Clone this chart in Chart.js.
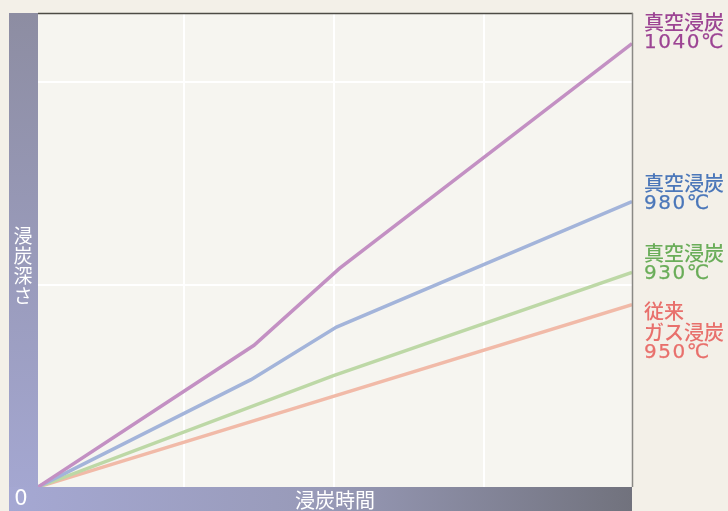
<!DOCTYPE html>
<html>
<head>
<meta charset="utf-8">
<script src="https://cdn.jsdelivr.net/npm/chart.js@4/dist/chart.umd.min.js"></script>
<style>
  html, body { margin: 0; padding: 0; background: #f3f0e8; }
  #wrap { width: 728px; height: 511px; position: relative; }
</style>
</head>
<body>
<div id="wrap"><canvas id="chart" width="728" height="511"></canvas></div>
<script>
// carburizing depth vs time, unitless (one unit = one grid cell)
const vac1040X = [0, 1.44, 2.01, 3.96];
const vac1040Y = [0, 0.70, 1.08, 2.19];
const vac980X = [0, 1.42, 1.99, 3.96];
const vac980Y = [0, 0.53, 0.79, 1.41];
const vac930X = [0, 1.97, 3.96];
const vac930Y = [0, 0.55, 1.06];
const gas950X = [0, 3.96];
const gas950Y = [0, 0.90];

const xGridTicks = [0.97, 1.97, 2.97];
const yGridTicks = [1, 2];

const seriesLabels = [
    ["真空浸炭", "1040℃"],
    ["真空浸炭", "980℃"],
    ["真空浸炭", "930℃"],
    ["従来", "ガス浸炭", "950℃"],
];
const axisLabelX = "浸炭時間";
const axisLabelY = "浸炭深さ";
const originLabel = "0";

const toPoints = (xs, ys) => xs.map((x, i) => ({ x: x, y: ys[i] }));
const FONT = "'Noto Sans CJK JP', 'Noto Sans', sans-serif";

const frame = {
    id: "frame",
    beforeDraw(chart) {
        const { ctx, chartArea: a } = chart;
        ctx.save();
        ctx.fillStyle = "#f6f5f0";
        ctx.fillRect(a.left, a.top, a.right - a.left, a.bottom - a.top);
        ctx.restore();
    },
    afterDraw(chart) {
        const { ctx, chartArea: a } = chart;
        ctx.save();
        // left bar
        let g = ctx.createLinearGradient(0, a.top, 0, 511);
        g.addColorStop(0, "#8d8da2");
        g.addColorStop(1, "#a5a8d3");
        ctx.fillStyle = g;
        ctx.fillRect(9, a.top, a.left - 9, 511 - a.top);
        // bottom bar
        g = ctx.createLinearGradient(9, 0, a.right, 0);
        g.addColorStop(0, "#a5a8d3");
        g.addColorStop(0.5, "#989ab8");
        g.addColorStop(1, "#71727d");
        ctx.fillStyle = g;
        ctx.fillRect(9, a.bottom, a.right - 9, 511 - a.bottom);
        // borders
        ctx.strokeStyle = "#4d4b45";
        ctx.lineWidth = 1.5;
        ctx.beginPath();
        ctx.moveTo(a.left, a.top + 0.5);
        ctx.lineTo(a.right + 1, a.top + 0.5);
        ctx.stroke();
        ctx.strokeStyle = "#8a8985";
        ctx.beginPath();
        ctx.moveTo(a.right + 0.5, a.top);
        ctx.lineTo(a.right + 0.5, a.bottom);
        ctx.stroke();

        // axis texts
        ctx.fillStyle = "#ffffff";
        ctx.font = "20px " + FONT;
        ctx.textAlign = "center";
        ctx.textBaseline = "middle";
        ctx.fillText(axisLabelX, 335, 500);
        ctx.font = "19px " + FONT;
        [...axisLabelY].forEach((c, i) => ctx.fillText(c, 23, 236 + i * 20));
        ctx.font = "21px 'DejaVu Sans', sans-serif";
        ctx.fillText(originLabel, 21, 500);

        // series labels
        ctx.textAlign = "left";
        const tops = [22, 183, 253, 311];
        chart.data.datasets.forEach((ds, i) => {
            ctx.fillStyle = ds.labelColor;
            ctx.strokeStyle = ds.labelColor;
            ctx.lineWidth = 0.25;
            seriesLabels[i].forEach((t, j) => {
                const digits = /\d/.test(t);
                ctx.font = digits ? "20px 'DejaVu Sans', sans-serif" : "500 20px " + FONT;
                ctx.letterSpacing = digits ? "1.5px" : "0px";
                ctx.fillText(t, 644, tops[i] + j * 21);
                if (digits) ctx.strokeText(t, 644, tops[i] + j * 21);
            });
        });
        ctx.restore();
    },
};

const line = (xs, ys, color, labelColor) => ({
    data: toPoints(xs, ys),
    borderColor: color,
    borderWidth: 3.5,
    pointRadius: 0,
    tension: 0,
    labelColor: labelColor,
});

new Chart(document.getElementById("chart"), {
    type: "line",
    data: {
        datasets: [
            line(vac1040X, vac1040Y, "#c390c3", "#9c4493"),
            line(vac980X, vac980Y, "#a3b4da", "#4b77b9"),
            line(vac930X, vac930Y, "#bdd8a6", "#6aad59"),
            line(gas950X, gas950Y, "#f1baa8", "#e8706c"),
        ],
    },
    options: {
        responsive: false,
        animation: false,
        layout: { padding: { left: 38, top: 13, right: 96, bottom: 24 } },
        plugins: { legend: { display: false }, tooltip: { enabled: false } },
        scales: {
            x: {
                type: "linear",
                min: 0,
                max: 3.96,
                afterBuildTicks: (s) => { s.ticks = xGridTicks.map((v) => ({ value: v })); },
                ticks: { display: false },
                grid: { color: "#ffffff", lineWidth: 2, drawTicks: false },
                border: { display: false },
            },
            y: {
                type: "linear",
                min: 0,
                max: 2.341,
                afterBuildTicks: (s) => { s.ticks = yGridTicks.map((v) => ({ value: v })); },
                ticks: { display: false },
                grid: { color: "#ffffff", lineWidth: 2, drawTicks: false },
                border: { display: false },
            },
        },
    },
    plugins: [frame],
});
</script>
</body>
</html>
